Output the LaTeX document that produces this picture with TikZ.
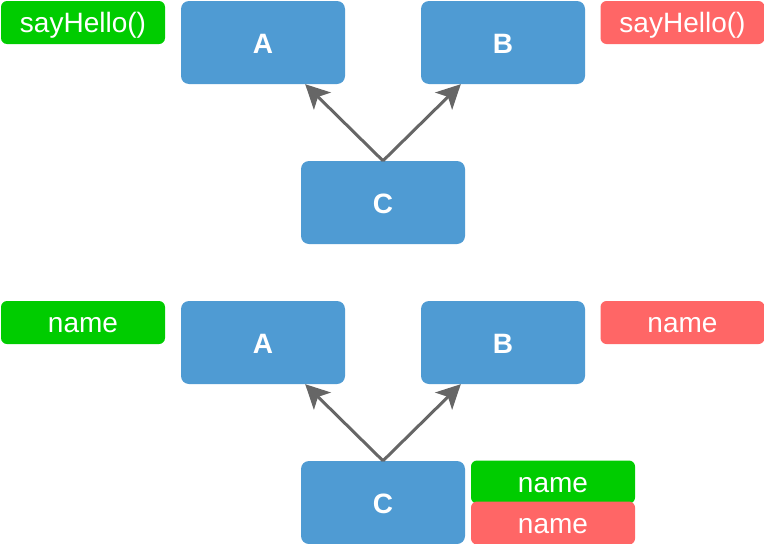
\documentclass[tikz,border=0pt]{standalone}
\usepackage{fontspec}
\setmainfont{Liberation Sans}
\usetikzlibrary{arrows.meta}

\definecolor{clsblue}{HTML}{4F9BD3}
\definecolor{okgreen}{HTML}{00CC00}
\definecolor{badred}{HTML}{FF6666}
\definecolor{arrgray}{HTML}{666666}

\begin{document}
\begin{tikzpicture}[x=1pt,y=-1pt,
  classbox/.style={fill=clsblue,rounded corners=8pt,minimum width=164pt,minimum height=83pt,inner sep=0pt,text height=22pt,text depth=0pt,text=white,font=\fontsize{28}{32}\selectfont\bfseries},
  tagbox/.style={rounded corners=6pt,minimum width=164pt,minimum height=43pt,inner sep=0pt,text height=20pt,text depth=0pt,text=white,font=\fontsize{28}{32}\selectfont},
  inherit/.style={draw=arrgray,line width=3pt,-{Stealth[length=24pt,width=24pt,inset=6pt]}}]
\useasboundingbox (0,0) rectangle (764,544);
% same diamond twice, the lower one 300 further down
\foreach \dy/\h in {0/t,300/b}{
  \node[classbox] (A\h) at (263,42.5+\dy) {A};
  \node[classbox] (B\h) at (503,42.5+\dy) {B};
  \node[classbox] (C\h) at (383,202.5+\dy) {C};
  \draw[inherit] (C\h.north) -- ([xshift=-40pt]A\h.south east);
  \draw[inherit] (C\h.north) -- ([xshift=40pt]B\h.south west);
}
% methods
\node[tagbox,fill=okgreen] (helloA) at (83,22.5) {sayHello()};
\node[tagbox,fill=badred] (helloB) at (682.5,22.5) {sayHello()};
% fields
\node[tagbox,fill=okgreen] (nameA) at (83,322.5) {name};
\node[tagbox,fill=badred] (nameB) at (682.5,322.5) {name};
\node[tagbox,fill=okgreen] (nameCa) at (553,482) {name};
\node[tagbox,fill=badred] (nameCb) at (553,523) {name};
\end{tikzpicture}
\end{document}
